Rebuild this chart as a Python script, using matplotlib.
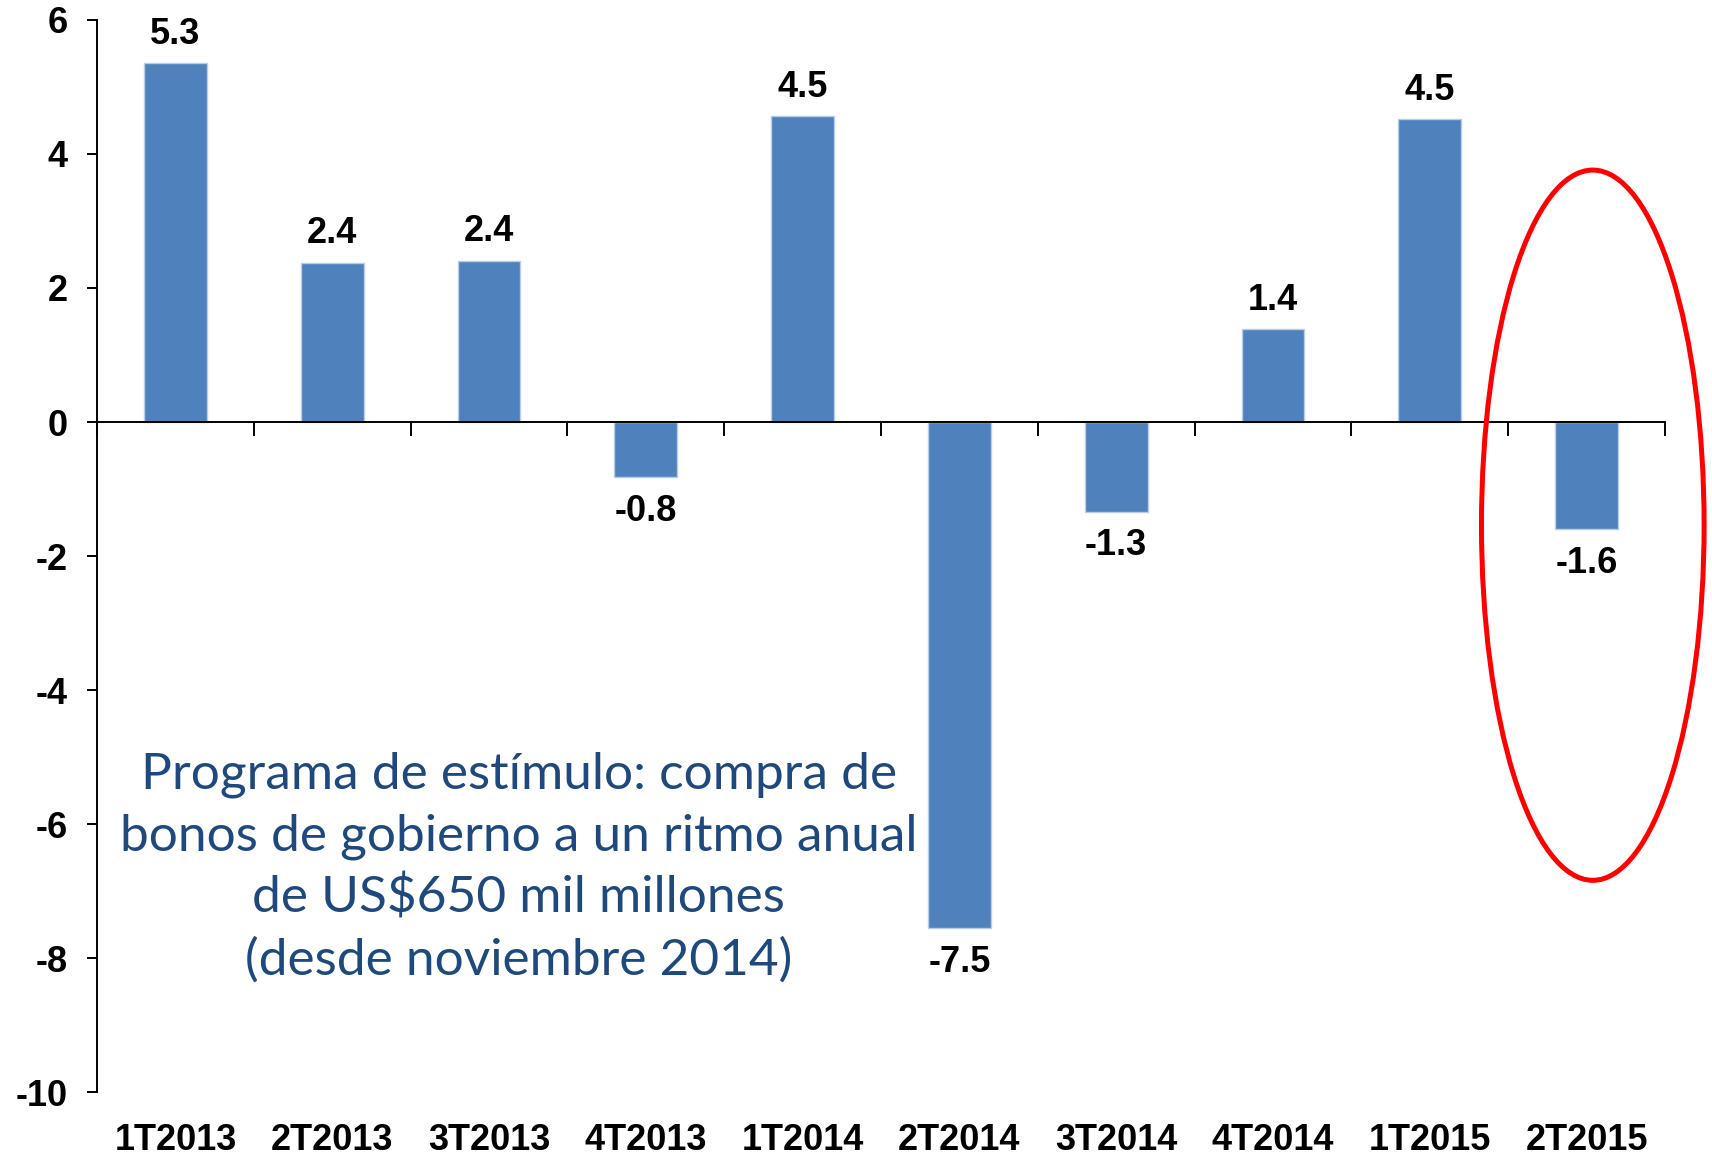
import matplotlib.pyplot as plt
from matplotlib.patches import Ellipse
from matplotlib.transforms import blended_transform_factory

# quarterly change
quarters = ['1T2013', '2T2013', '3T2013', '4T2013', '1T2014',
            '2T2014', '3T2014', '4T2014', '1T2015', '2T2015']
values = [5.36, 2.38, 2.41, -0.82, 4.56, -7.55, -1.34, 1.39, 4.52, -1.60]
value_labels = ['5.3', '2.4', '2.4', '-0.8', '4.5', '-7.5', '-1.3', '1.4', '4.5', '-1.6']
y_ticks = [6, 4, 2, 0, -2, -4, -6, -8, -10]

note = ("Programa de estímulo: compra de\n"
        "bonos de gobierno a un ritmo anual\n"
        "de US$650 mil millones\n"
        "(desde noviembre 2014)")

bar_color = '#4F81BD'
num_font = dict(family='Liberation Sans', fontweight='bold', fontsize=26)

fig = plt.figure(figsize=(17.12, 11.55), dpi=100)
ax = fig.add_axes([0.0567, 0.0545, 0.9158, 0.9282])

x = list(range(len(quarters)))
ax.bar(x, values, width=0.4, color=bar_color, edgecolor='#B9CDE5', linewidth=1, zorder=2)

# value labels above / below each bar
for xi, v, lab in zip(x, values, value_labels):
    off = 8 if v >= 0 else -12
    ax.annotate(lab, (xi, v), xytext=(0, off), textcoords='offset points',
                ha='center', va='bottom' if v >= 0 else 'top', **num_font)

ax.set_xlim(-0.5, len(quarters) - 0.5)
ax.set_ylim(-10, 6)

# axes styling
for s in ['top', 'right']:
    ax.spines[s].set_visible(False)
ax.spines['bottom'].set_position(('data', 0))
ax.spines['bottom'].set_linewidth(1.4)
ax.spines['left'].set_linewidth(1.4)

ax.set_yticks(y_ticks)
ax.set_yticklabels([str(t) for t in y_ticks], **num_font)
ax.tick_params(axis='y', direction='out', length=7, width=1.4, pad=14)

ax.set_xticks([i + 0.5 for i in range(-1, len(quarters))])
ax.set_xticklabels([])
ax.tick_params(axis='x', direction='out', length=10, width=1.4)

# category labels along the bottom of the figure
trans = blended_transform_factory(ax.transData, fig.transFigure)
for xi, q in zip(x, quarters):
    ax.text(xi, 0.0125, q, transform=trans, ha='center', va='center', **num_font)

# red ellipse highlighting the latest quarter
ell = Ellipse((9.04, -1.54), 1.42, 10.6, fill=False, edgecolor='#FF0000',
              linewidth=3.6, zorder=3, clip_on=False)
ax.add_patch(ell)

ax.text(2.19, -6.65, note, ha='center', va='center', color='#1F497D',
        family='Lato', fontsize=37, linespacing=1.4)

fig.savefig('out.png', dpi=100)
plt.close(fig)
